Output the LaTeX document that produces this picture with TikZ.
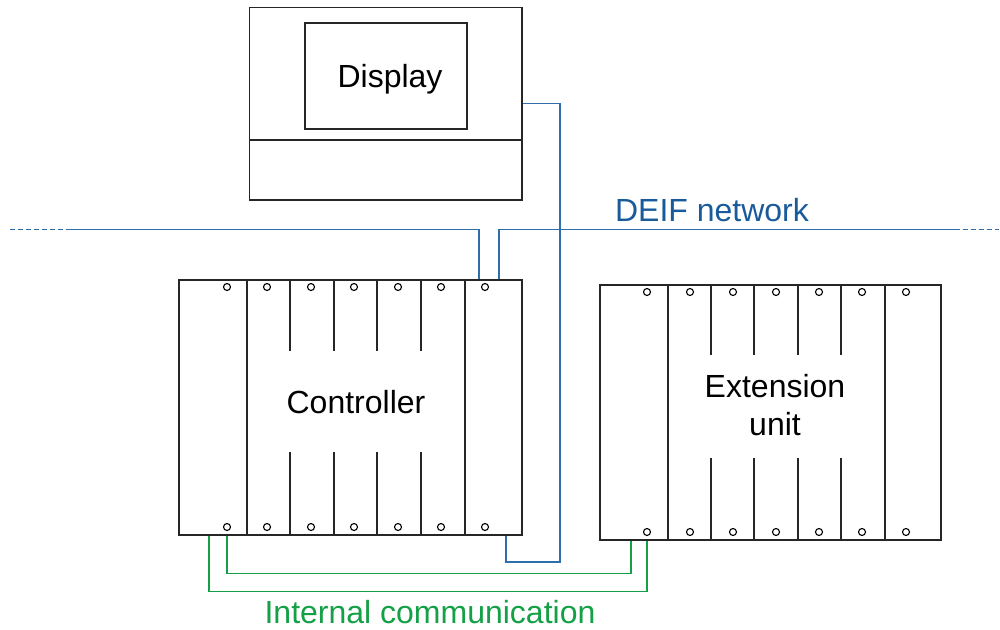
\documentclass[tikz,border=0pt]{standalone}
\usepackage{fontspec}
\setmainfont{Liberation Sans}
\definecolor{netblue}{RGB}{46,110,170}
\definecolor{txtblue}{RGB}{25,90,155}
\definecolor{icgreen}{RGB}{20,160,70}
\begin{document}
\begin{tikzpicture}[x=1pt,y=-1pt, line width=1.3pt,
 box/.style={draw=black!85, rectangle, inner sep=0pt, line width=1.5pt},
 port/.style={circle, draw=black, line width=1.1pt, minimum size=7pt, inner sep=0pt},
 lbl/.style={font=\fontsize{32}{38}\selectfont, inner sep=0pt},
 net/.style={draw=netblue, line width=1.4pt},
 ic/.style={draw=icgreen, line width=1.4pt},
 sep/.style={draw=black!85, line width=1.5pt}]
\useasboundingbox (0,0) rectangle (1000,629);

% Display
\node[box, minimum width=272.5pt, minimum height=192.5pt] (disp) at (385.75,103.75) {};
\node[box, minimum width=162pt, minimum height=106pt] (scr) at (386,76) {};
\draw[sep] (disp.west |- 0,140) -- (disp.east |- 0,140);
\node[lbl] (tdisp) at (390,79) {Display};

% Controller
\node[box, minimum width=343pt, minimum height=255pt] (ctrl) at (350.5,407.5) {};
\foreach \x in {247,465} \draw[sep] (\x,280) -- (\x,535);
\foreach \x in {290,334,377,421} {\draw[sep] (\x,280) -- (\x,351); \draw[sep] (\x,452) -- (\x,535);}
\foreach \x [count=\i] in {227,267,311,354,398,441,485} {
  \node[port] (ct\i) at (\x,287) {};
  \node[port] (cb\i) at (\x,527) {};
}
\node[lbl] (tctrl) at (356,402) {Controller};

% Extension unit
\node[box, minimum width=341pt, minimum height=255pt] (ext) at (770.5,412.5) {};
\foreach \x in {668,885} \draw[sep] (\x,285) -- (\x,540);
\foreach \x in {711,754,798,841} {\draw[sep] (\x,285) -- (\x,355); \draw[sep] (\x,458) -- (\x,540);}
\foreach \x [count=\i] in {647,690,733,776,819,862,906} {
  \node[port] (et\i) at (\x,292) {};
  \node[port] (eb\i) at (\x,532) {};
}
\node[lbl, align=center] (text) at (775,405) {Extension\\unit};

% DEIF network
\draw[net, dash pattern=on 4.5pt off 3.5pt] (10,229.5) -- (66,229.5);
\coordinate (nl) at (66,229.5);
\coordinate (nr) at (955,229.5);
\draw[net] (nl) -| ([xshift=-6pt]ct7 |- ctrl.north);
\draw[net] ([xshift=14pt]ct7 |- ctrl.north) |- (nr);
\draw[net, dash pattern=on 4.5pt off 3.5pt] (nr) -- (999,229.5);
\node[lbl, text=txtblue] (tnet) at (712,210) {DEIF network};

% Display to controller
\coordinate (dc) at (560,562);
\draw[net] (disp.east) -| (dc) -| ([xshift=21pt]cb7 |- ctrl.south);

% Internal communication
\draw[ic] (cb1 |- ctrl.south) -- ++(0,38) -| ([xshift=-16pt]eb1 |- ext.south);
\draw[ic] ([xshift=-18pt]cb1 |- ctrl.south) -- ++(0,56) -| (eb1 |- ext.south);
\node[lbl, text=icgreen] (tic) at (430,612) {Internal communication};
\end{tikzpicture}
\end{document}
